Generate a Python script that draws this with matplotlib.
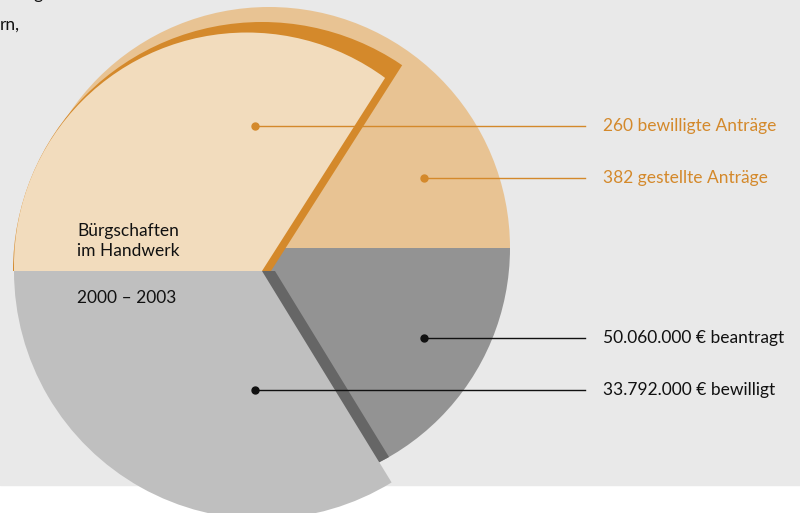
import numpy as np
import matplotlib.pyplot as plt
from matplotlib.patches import Wedge, Circle, Rectangle

# Bürgschaften im Handwerk 2000 - 2003
antraege_gestellt = 382
antraege_bewilligt = 260
euro_beantragt = 50060000
euro_bewilligt = 33792000

labels = ["260 bewilligte Anträge", "382 gestellte Anträge",
          "50.060.000 € beantragt", "33.792.000 € bewilligt"]
title_lines = ["Bürgschaften", "im Handwerk"]
period = "2000 – 2003"

W, H = 800, 513
def Y(y):  # picture rows -> data y
    return H - y

plt.rcParams['font.family'] = ['Lato', 'DejaVu Sans']

fig = plt.figure(figsize=(W / 100, H / 100), dpi=100)
ax = fig.add_axes([0, 0, 1, 1])
ax.set_xlim(0, W)
ax.set_ylim(0, H)
ax.set_aspect('equal')
ax.axis('off')

c_bg = '#e9e9e9'
c_orange_big = '#e8c393'
c_beige = '#f2dcbd'
c_orange = '#d4892b'
c_grey_dark = '#939393'
c_grey_light = '#bfbfbf'
c_shadow = '#666666'

ax.add_patch(Rectangle((0, Y(485)), W, 485, color=c_bg, zorder=0))

# angles from the values
ang_cnt = 180 * antraege_bewilligt / antraege_gestellt
ang_eur = 180 * euro_bewilligt / euro_beantragt

# big pie (the requested totals)
big_c, big_r = (269, Y(248)), 241
ax.add_patch(Wedge(big_c, big_r, 0, 180, color=c_orange_big, lw=0, zorder=1))
dark = Wedge(big_c, big_r, 180, 360, color=c_grey_dark, lw=0, zorder=1)
ax.add_patch(dark)

# approved part, grey with shadow
apex = (262, Y(271))
r_small = 248
sh = Wedge((apex[0] + 13, apex[1]), r_small, 180, 180 + ang_eur,
           color=c_shadow, lw=0, zorder=2)
ax.add_patch(sh)
sh.set_clip_path(dark)
ax.add_patch(Wedge(apex, r_small, 180, 180 + ang_eur, color=c_grey_light,
                   lw=0, zorder=3))

# approved part, beige with orange rim
rim_clip = Wedge((apex[0] + 9, apex[1]), 400, 180 - ang_cnt, 180,
                 color='none', lw=0)
ax.add_patch(rim_clip)
rim = Circle(apex, 249, color=c_orange, lw=0, zorder=2)
ax.add_patch(rim)
rim.set_clip_path(rim_clip)

clip = Wedge(apex, 400, 180 - ang_cnt, 180, color='none', lw=0)
ax.add_patch(clip)
d = 16
phi = np.radians(160)
beige = Circle((apex[0] + d * np.cos(phi), apex[1] + d * np.sin(phi)),
               249 - d, color=c_beige, lw=0, zorder=3)
ax.add_patch(beige)
beige.set_clip_path(clip)

# labels
fs = 12.5
dots = [(255, 126), (424, 178), (424, 338), (255, 390)]
colors = [c_orange, c_orange, '#111111', '#111111']
for (x, y), lab, col in zip(dots, labels, colors):
    ax.plot([x, 585], [Y(y), Y(y)], color=col, lw=1, zorder=5)
    ax.plot(x, Y(y), 'o', color=col, ms=5, zorder=6)
    ax.text(603, Y(y), lab, color=col, fontsize=fs, va='center',
            ha='left', zorder=6)

ax.text(77, Y(241), "\n".join(title_lines), fontsize=fs, va='center',
        ha='left', color='#111111', linespacing=1.35, zorder=6)
ax.text(77, Y(298), period, fontsize=fs, va='center', ha='left',
        color='#111111', zorder=6)

# cut-off body text at the top left
ax.text(20, Y(-1), "Eigen-", fontsize=fs, va='baseline', ha='left',
        color='#111111', zorder=6)
ax.text(0, Y(30), "rn,", fontsize=fs, va='baseline', ha='left',
        color='#111111', zorder=6)

fig.savefig('out.png', dpi=100)
